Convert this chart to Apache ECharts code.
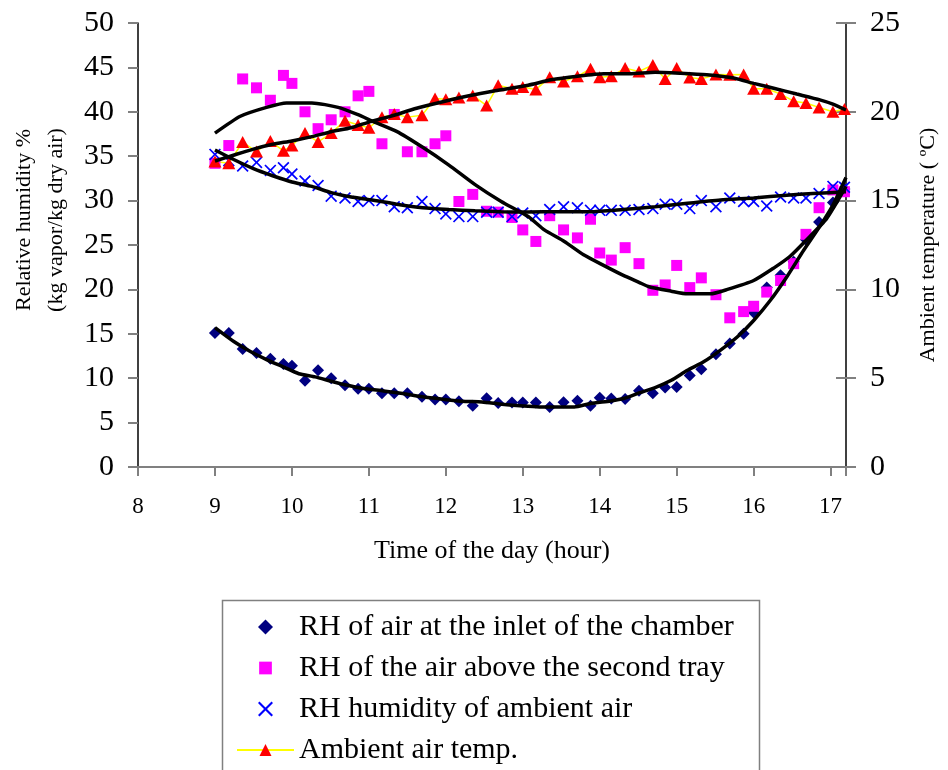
<!DOCTYPE html>
<html>
<head>
<meta charset="utf-8">
<script src="https://cdn.jsdelivr.net/npm/echarts@6/dist/echarts.min.js"></script>
<style>
  html, body { margin: 0; padding: 0; background: #fff; }
  #chart { width: 948px; height: 770px; }
</style>
</head>
<body>
<div id="chart"></div>
<script>
// Sampling times (hour of the day)
const times = [9.0, 9.18, 9.36, 9.54, 9.72, 9.89,
  10.0, 10.17, 10.34, 10.51, 10.69, 10.86,
  11.0, 11.17, 11.33, 11.5, 11.69, 11.86,
  12.0, 12.17, 12.35, 12.53, 12.68, 12.86,
  13.0, 13.17, 13.35, 13.53, 13.71, 13.88,
  14.0, 14.15, 14.33, 14.51, 14.69, 14.85,
  15.0, 15.17, 15.32, 15.51, 15.69, 15.87,
  16.0, 16.17, 16.35, 16.52, 16.68, 16.85,
  17.03, 17.18];

// RH of air at the inlet of the chamber (%)
const inletRH = [15.1, 15.1, 13.3, 12.85, 12.2, 11.6,
  11.4, 9.7, 10.9, 10.0, 9.2, 8.8,
  8.8, 8.3, 8.3, 8.3, 7.9, 7.6,
  7.6, 7.4, 6.9, 7.75, 7.2, 7.25,
  7.25, 7.25, 6.75, 7.3, 7.45, 6.9,
  7.8, 7.7, 7.65, 8.6, 8.3, 8.95,
  9.0, 10.3, 11.0, 12.7, 13.9, 15.0,
  17.4, 20.2, 21.6, 23.1, 25.6, 27.6,
  29.8, 31.3];

// RH of the air above the second tray (%)
const trayRH = [34.2, 36.2, 43.7, 42.7, 41.3, 44.1,
  43.2, 40.0, 38.1, 39.1, 40.0, 41.8,
  42.3, 36.4, 39.7, 35.5, 35.5, 36.4,
  37.3, 29.9, 30.7, 28.8, 28.7, 28.1,
  26.7, 25.4, 28.3, 26.7, 25.8, 27.9,
  24.1, 23.3, 24.7, 22.9, 19.9, 20.5,
  22.7, 20.2, 21.3, 19.4, 16.8, 17.5,
  18.1, 19.7, 21.0, 22.9, 26.2, 29.2,
  31.2, 31.0];

// RH of ambient air (%)
const ambientRH = [35.2, 34.5, 33.9, 34.3, 33.4, 33.7,
  33.0, 32.2, 31.7, 30.5, 30.3, 29.9,
  30.0, 30.0, 29.3, 29.2, 29.9, 29.1,
  28.5, 28.2, 28.2, 28.7, 28.7, 28.2,
  28.6, 28.3, 29.0, 29.3, 29.2, 28.9,
  28.9, 28.9, 28.9, 29.0, 29.1, 29.6,
  29.6, 29.1, 30.0, 29.3, 30.3, 29.9,
  29.9, 29.4, 30.4, 30.3, 30.3, 30.8,
  31.6, 31.5];

// Ambient air temperature (°C)
const ambientTemp = [17.2, 17.1, 18.3, 17.76, 18.35, 17.8,
  18.1, 18.8, 18.3, 18.8, 19.5, 19.26,
  19.1, 19.7, 19.87, 19.7, 19.8, 20.75,
  20.7, 20.8, 20.92, 20.35, 21.5, 21.3,
  21.4, 21.25, 21.95, 21.7, 22.0, 22.43,
  21.95, 22.0, 22.46, 22.27, 22.64, 21.85,
  22.46, 21.93, 21.85, 22.1, 22.08, 22.1,
  21.3, 21.3, 21.0, 20.6, 20.5, 20.24,
  20.0, 20.16];

// Polynomial trend curves
const inletTrendTime = [9.0, 9.25, 9.46, 9.67, 9.88, 10.09, 10.3, 10.51, 10.72, 10.93, 11.19, 11.44, 11.7, 11.96, 12.21, 12.47, 12.73, 13.07, 13.24, 13.67, 13.88, 14.14, 14.31, 14.51, 14.72, 14.93, 15.14, 15.35, 15.57, 15.79, 16.0, 16.22, 16.43, 16.65, 16.86, 17.03, 17.2];
const inletTrend = [15.7, 14.1, 13.0, 12.1, 11.3, 10.5, 10.15, 9.66, 9.2, 8.84, 8.57, 8.27, 7.9, 7.63, 7.4, 7.33, 7.07, 6.84, 6.76, 6.76, 7.15, 7.44, 7.71, 8.34, 8.95, 9.77, 10.9, 11.84, 13.16, 14.66, 16.5, 18.8, 21.4, 24.4, 27.1, 29.5, 32.6];

const trayTrendTime = [9.0, 9.33, 9.67, 9.93, 10.26, 10.6, 10.85, 11.06, 11.36, 11.7, 12.04, 12.38, 12.72, 13.07, 13.28, 13.54, 13.79, 14.05, 14.3, 14.51, 14.64, 14.93, 15.14, 15.44, 15.66, 16.0, 16.26, 16.47, 16.69, 16.95, 17.2];
const trayTrend = [37.6, 39.5, 40.5, 41.0, 41.0, 40.5, 39.7, 38.9, 37.8, 36.0, 34.0, 31.8, 29.9, 28.2, 26.7, 25.4, 23.9, 22.7, 21.6, 20.8, 20.3, 19.8, 19.5, 19.5, 20.0, 21.0, 22.4, 23.7, 25.6, 28.0, 31.6];

const ambientTrendTime = [9.0, 9.25, 9.5, 9.75, 10.0, 10.26, 10.51, 10.77, 11.02, 11.36, 11.7, 12.04, 12.38, 12.72, 13.07, 13.5, 13.88, 14.3, 14.72, 15.14, 15.57, 16.0, 16.43, 16.77, 17.2];
const ambientTrend = [35.7, 34.6, 33.6, 32.8, 32.1, 31.6, 30.9, 30.4, 30.1, 29.6, 29.2, 29.0, 28.86, 28.75, 28.72, 28.75, 28.75, 29.0, 29.3, 29.7, 30.07, 30.3, 30.6, 30.8, 31.0];

const tempTrendTime = [9.0, 9.25, 9.5, 9.75, 10.0, 10.26, 10.51, 10.77, 11.02, 11.27, 11.62, 11.96, 12.3, 12.64, 13.07, 13.37, 13.71, 14.05, 14.39, 14.72, 15.05, 15.39, 15.74, 16.0, 16.26, 16.56, 16.86, 17.03, 17.2];
const tempTrend = [17.23, 17.57, 17.9, 18.17, 18.36, 18.6, 18.88, 19.1, 19.45, 19.73, 20.2, 20.57, 20.9, 21.18, 21.5, 21.8, 22.0, 22.14, 22.14, 22.23, 22.17, 22.08, 21.9, 21.6, 21.33, 21.0, 20.67, 20.43, 20.1];

// Axis ticks
const hourTicks = [8, 9, 10, 11, 12, 13, 14, 15, 16, 17];

const seriesNames = [
  'RH of air at the inlet of the chamber',
  'RH of the air above the second tray',
  'RH humidity of ambient air',
  'Ambient air temp.'
];

const SERIF = '"Liberation Serif", "Times New Roman", serif';
const CROSS = 'path://M0,1 L1,0 L5,4 L9,0 L10,1 L6,5 L10,9 L9,10 L5,6 L1,10 L0,9 L4,5 Z';
// legend glyphs; the square carries a small empty margin (leading moveTo points) so it sits a bit smaller
const LEGEND_DIAMOND = 'path://M5,0 L10,5 L5,10 L0,5 Z';
const LEGEND_SQUARE = 'path://M-0.9,-0.9 M10.9,10.9 M0,0 L10,0 L10,10 L0,10 Z';
const LEGEND_CROSS = CROSS;

const pairs = (xs, ys) => xs.map((x, i) => [x, ys[i]]);

const trend = (name, xs, ys, axis) => ({
  name: name,
  type: 'line',
  yAxisIndex: axis,
  data: pairs(xs, ys),
  symbol: 'none',
  smooth: 0.2,
  silent: true,
  z: 5,
  lineStyle: { color: '#000', width: 3.5 }
});

const chart = echarts.init(document.getElementById('chart'), null, { renderer: 'canvas' });

chart.setOption({
  animation: false,
  backgroundColor: '#fff',
  grid: { left: 137, top: 23, width: 720, height: 444, containLabel: false },
  xAxis: {
    type: 'value',
    min: 8, max: 17.2, interval: 1,
    name: 'Time of the day (hour)',
    nameLocation: 'middle',
    nameGap: 71,
    nameTextStyle: { fontFamily: SERIF, fontSize: 26, color: '#000' },
    axisLine: { show: true, onZero: false, lineStyle: { color: '#808080', width: 2 } },
    axisTick: { show: true, length: 9, lineStyle: { color: '#808080', width: 2 } },
    axisLabel: {
      margin: 28,
      fontFamily: SERIF, fontSize: 23, color: '#000',
      formatter: v => (hourTicks.indexOf(v) >= 0 ? String(v) : '')
    },
    splitLine: { show: false }
  },
  yAxis: [
    {
      type: 'value', position: 'left',
      min: 0, max: 50, interval: 5,
      name: 'Relative humidity %\n(kg vapor/kg dry air)',
      nameLocation: 'middle', nameRotate: 90, nameGap: 66,
      nameTextStyle: { fontFamily: SERIF, fontSize: 22, lineHeight: 32, color: '#000', padding: [0, 0, 0, 50] },
      axisLine: { show: true, lineStyle: { color: '#000', width: 1.5 } },
      axisTick: { show: true, length: 10, lineStyle: { color: '#808080', width: 2 } },
      axisLabel: { margin: 24, fontFamily: SERIF, fontSize: 30, color: '#000' },
      splitLine: { show: false }
    },
    {
      type: 'value', position: 'right',
      min: 0, max: 25, interval: 5,
      name: 'Ambient temperature ( ºC)',
      nameLocation: 'middle', nameRotate: 90, nameGap: 70,
      nameTextStyle: { fontFamily: SERIF, fontSize: 22, lineHeight: 24, color: '#000' },
      axisLine: { show: true, lineStyle: { color: '#000', width: 1.5 } },
      axisTick: { show: true, length: 10, lineStyle: { color: '#808080', width: 2 } },
      axisLabel: { margin: 24, fontFamily: SERIF, fontSize: 30, color: '#000' },
      splitLine: { show: false }
    },
    {
      // inner half of the crossing ticks on the temperature axis
      type: 'value', position: 'right',
      min: 0, max: 25, interval: 5,
      axisLine: { show: false },
      axisTick: { show: true, inside: true, length: 10, lineStyle: { color: '#808080', width: 2 } },
      axisLabel: { show: false },
      splitLine: { show: false }
    }
  ],
  legend: {
    orient: 'vertical',
    left: 236, top: 612,
    padding: 0,
    itemWidth: 57, itemHeight: 15,
    itemGap: 11,
    align: 'left',
    selectedMode: false,
    textStyle: { fontFamily: SERIF, fontSize: 30, lineHeight: 30, color: '#000' },
    data: [
      { name: seriesNames[0], icon: LEGEND_DIAMOND },
      { name: seriesNames[1], icon: LEGEND_SQUARE },
      { name: seriesNames[2], icon: LEGEND_CROSS },
      { name: seriesNames[3] }
    ]
  },
  graphic: [
    {
      type: 'rect',
      shape: { x: 222.5, y: 600.5, width: 537, height: 220 },
      style: { fill: 'none', stroke: '#808080', lineWidth: 1.5 },
      z: 0
    }
  ],
  series: [
    {
      name: seriesNames[0], type: 'scatter', yAxisIndex: 0,
      data: pairs(times, inletRH),
      symbol: 'diamond', symbolSize: 12,
      itemStyle: { color: '#000080', opacity: 1 }, z: 3
    },
    {
      name: seriesNames[1], type: 'scatter', yAxisIndex: 0,
      data: pairs(times, trayRH),
      symbol: 'rect', symbolSize: 11,
      itemStyle: { color: '#FF00FF', opacity: 1 }, z: 3
    },
    {
      name: seriesNames[2], type: 'scatter', yAxisIndex: 0,
      data: pairs(times, ambientRH),
      symbol: CROSS, symbolSize: 12,
      itemStyle: { color: '#0000FF', opacity: 1 }, z: 3
    },
    {
      name: seriesNames[3], type: 'line', yAxisIndex: 1,
      data: pairs(times, ambientTemp),
      symbol: 'triangle', symbolSize: [13, 12],
      showSymbol: true, showAllSymbol: true,
      lineStyle: { color: '#FFFF00', width: 1.5 },
      itemStyle: { color: '#FF0000', opacity: 1 }, z: 3
    },
    trend('Poly. inlet RH', inletTrendTime, inletTrend, 0),
    trend('Poly. tray RH', trayTrendTime, trayTrend, 0),
    trend('Poly. ambient RH', ambientTrendTime, ambientTrend, 0),
    trend('Poly. ambient temp.', tempTrendTime, tempTrend, 1)
  ]
});
</script>
</body>
</html>
